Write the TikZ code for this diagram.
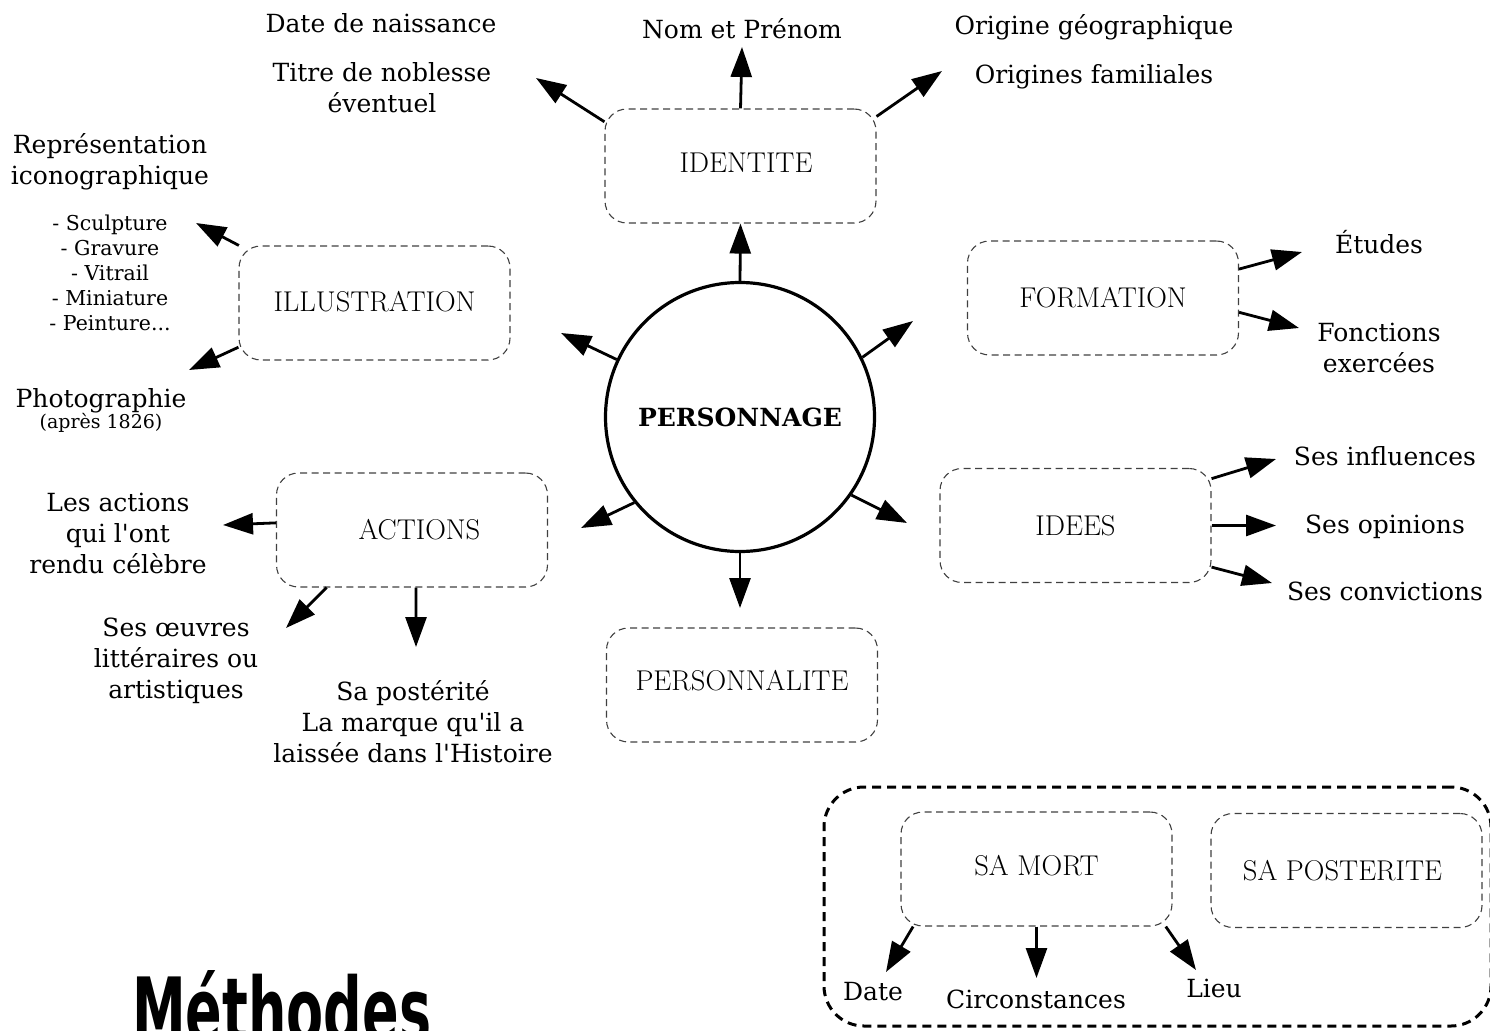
\documentclass[tikz,border=0pt]{standalone}
\usepackage{fontspec}
\newfontfamily\dvs{DejaVu Serif}
\newfontfamily\dvsans{DejaVu Sans}
\usetikzlibrary{arrows.meta}
\begin{document}
\begin{tikzpicture}[x=1pt,y=-1pt,
  box/.style={draw=black!75, line width=1.1pt, dash pattern=on 7pt off 4.5pt,
    rounded corners=22pt, minimum width=271pt, minimum height=114pt, inner sep=0pt,
    font=\fontsize{28.6}{32}\selectfont},
  grpbox/.style={draw=black, line width=3pt, dash pattern=on 9pt off 6pt,
    rounded corners=40pt, inner sep=0pt},
  lbl/.style={font=\dvs\fontsize{25}{31}\selectfont, align=center, inner sep=0pt, anchor=base},
  lst/.style={font=\dvs\fontsize{20.5}{25}\selectfont, align=center, inner sep=0pt, anchor=base},
  sml/.style={font=\dvs\fontsize{19}{22}\selectfont, align=center, inner sep=0pt, anchor=base},
  arr/.style={line width=2.8pt, -{Triangle[length=30pt,width=21pt]}}]
\useasboundingbox (0,0) rectangle (1490,1030);
\clip (0,0) rectangle (1490,1030);
% central circle
\node[circle, draw, line width=3.2pt, minimum size=269pt, inner sep=0pt,
  font=\dvs\bfseries\fontsize{25}{28}\selectfont] (c) at (740,417) {PERSONNAGE};
% boxes
\node[box, text depth=7pt] (idn) at (740.5,166) {\hspace*{11pt}IDENTITE};
\node[box, text depth=3pt] (ill) at (374.5,303) {ILLUSTRATION};
\node[box, text depth=2pt] (frm) at (1103,298) {FORMATION};
\node[box] (ide) at (1075.5,525.5) {IDEES};
\node[box] (act) at (412,530) {\hspace*{15pt}ACTIONS};
\node[box, text depth=9pt] (psn) at (742,685) {PERSONNALITE};
\node[grpbox, minimum width=667pt, minimum height=239pt] (grp) at (1157.5,906.5) {};
\node[box, text depth=7pt] (mort) at (1036.5,869) {SA MORT};
\node[box] (post) at (1346.5,870.5) {SA POSTERITE\hspace*{8pt}};
% texts
\node[lbl] (naiss) at (381,33) {Date de naissance};
\node[lbl] (titre) at (382,113) {Titre de noblesse\\éventuel};
\node[lbl] (nom) at (742,39) {Nom et Prénom};
\node[lbl] (orig) at (1094,35) {Origine géographique};
\node[lbl] (fam) at (1094,84) {Origines familiales};
\node[lbl] (repr) at (110,184) {Représentation\\iconographique};
\node[lst] (liste) at (110,330) {- Sculpture\\- Gravure\\- Vitrail\\- Miniature\\- Peinture...};
\node[lbl] (photo) at (101,407) {Photographie};
\node[sml] (apres) at (101,428) {(après 1826)};
\node[lbl] (lesact) at (118,573) {Les actions\\qui l'ont\\rendu célèbre};
\node[lbl] (oeuv) at (176,698) {Ses œuvres\\littéraires ou\\artistiques};
\node[lbl] (poste) at (413,762) {Sa postérité\\La marque qu'il a\\laissée dans l'Histoire};
\node[lbl] (etud) at (1379,253) {Études};
\node[lbl] (fonc) at (1379,372) {Fonctions\\exercées};
\node[lbl] (infl) at (1385,465) {Ses influences};
\node[lbl] (opin) at (1385,533) {Ses opinions};
\node[lbl] (conv) at (1385,600) {Ses convictions};
\node[lbl] (ddate) at (873,1000) {Date};
\node[lbl] (circ) at (1036,1008) {Circonstances};
\node[lbl] (lieu) at (1214,997) {Lieu};
\node[anchor=base west, inner sep=0pt, font=\dvsans\bfseries\fontsize{90}{90}\selectfont]
  (meth) at (132,1042) {\scalebox{0.6}[1]{Méthodes}};
% arrow tips
\coordinate (tTitre) at (536,78);
\coordinate (tNom) at (742,47);
\coordinate (tOrig) at (942,71);
\coordinate (tRepr) at (196,223);
\coordinate (tPhoto) at (189,370);
\coordinate (tIll) at (561,333);
\coordinate (tAct) at (581,528);
\coordinate (tPsn) at (740,608);
\coordinate (tIde) at (907,523);
\coordinate (tFrm) at (913,321);
\coordinate (tEtud) at (1302,252);
\coordinate (tFonc) at (1299,328);
\coordinate (tInfl) at (1276,459);
\coordinate (tOpin) at (1276,525.5);
\coordinate (tConv) at (1272,583);
\coordinate (tLes) at (223,525);
\coordinate (tOeuv) at (286,628);
\coordinate (tPost) at (416,647);
\coordinate (tDate) at (886,972);
\coordinate (tCirc) at (1036.5,978);
\coordinate (tLieu) at (1196,970);
% arrows
\draw[arr] (idn.162.5) -- (tTitre);
\draw[arr] (idn.north) -- (tNom);
\draw[arr] (idn.20.4) -- (tOrig);
\draw[arr] (c.north) -- (idn.south);
\draw[arr] (ill.157.5) -- (tRepr);
\draw[arr] (ill.198) -- (tPhoto);
\draw[arr] (c.155.7) -- (tIll);
\draw[arr] (c.219) -- (tAct);
\draw[arr] (c.south) -- (tPsn);
\draw[arr] (c.325.7) -- (tIde);
\draw[arr] (c.26.4) -- (tFrm);
\draw[arr] (frm.12.5) -- (tEtud);
\draw[arr] (frm.-6.8) -- (tFonc);
\draw[arr] (ide.19.7) -- (tInfl);
\draw[arr] (ide.east) -- (tOpin);
\draw[arr] (ide.-17.4) -- (tConv);
\draw[arr] (act.177.9) -- (tLes);
\draw[arr] (act.214.2) -- (tOeuv);
\draw[arr] (act.274) -- (tPost);
\draw[arr] (mort.205.1) -- (tDate);
\draw[arr] (mort.south) -- (tCirc);
\draw[arr] (mort.-24.6) -- (tLieu);
\end{tikzpicture}
\end{document}
